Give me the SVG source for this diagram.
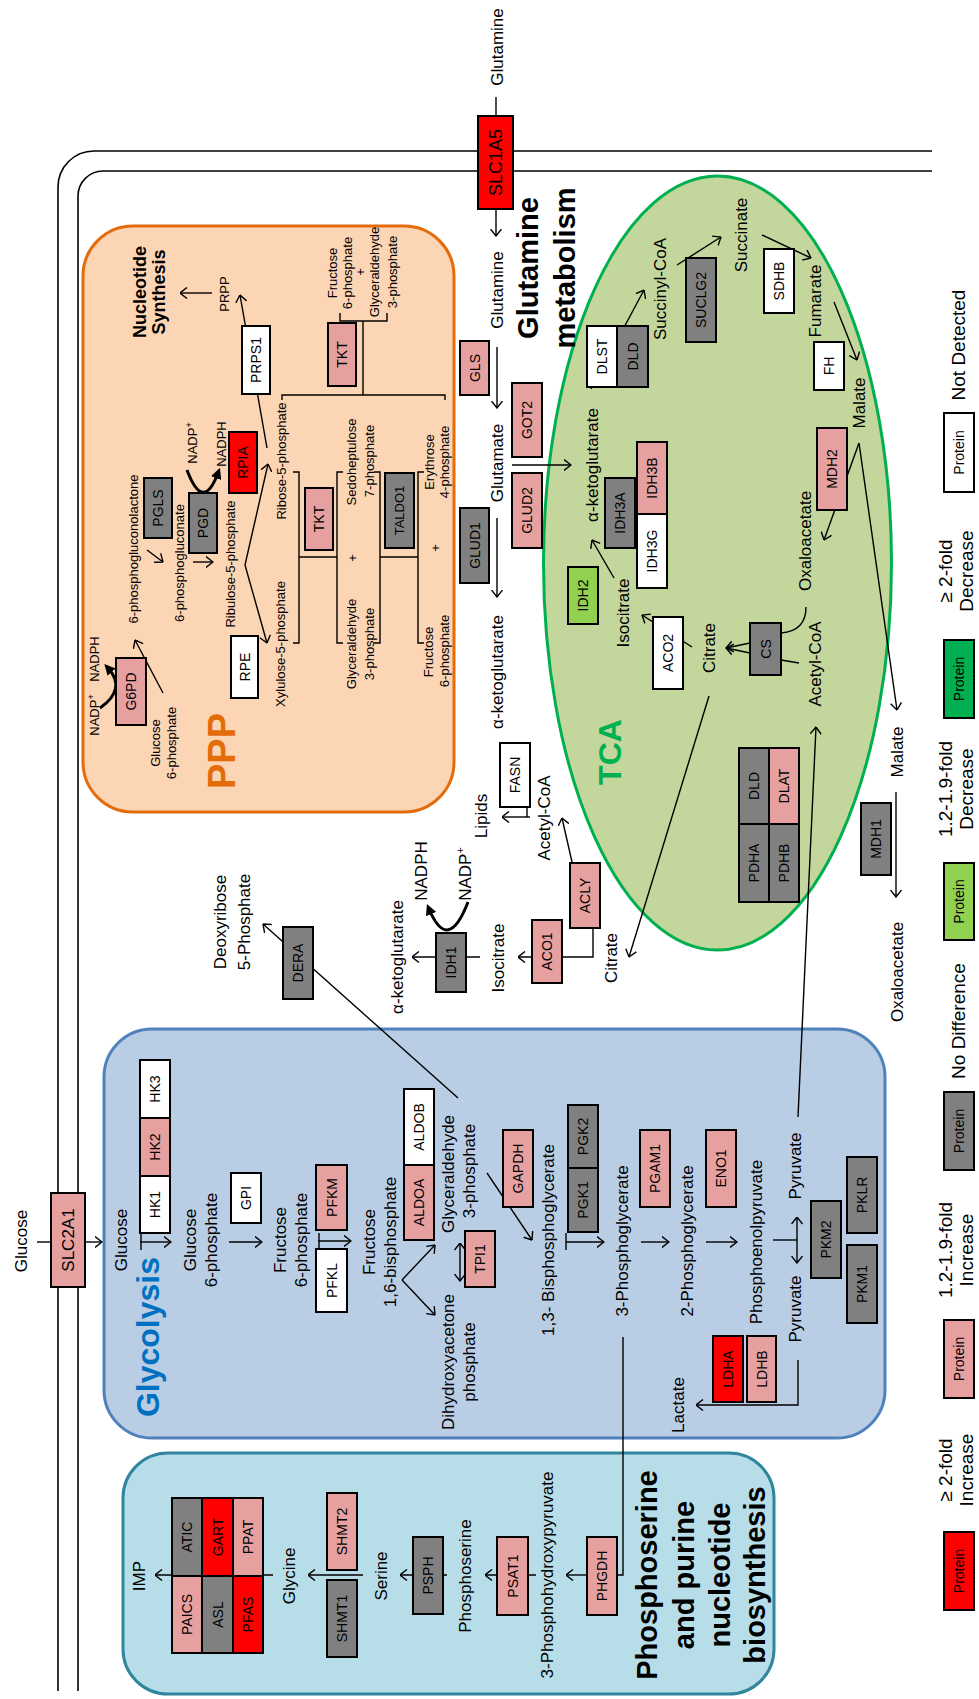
<svg xmlns="http://www.w3.org/2000/svg" width="979" height="1699" viewBox="0 0 979 1699">
<defs>
<style>
text{font-family:"Liberation Sans",Arial,sans-serif;text-anchor:middle;fill:#000}
.n rect{stroke:#000;stroke-width:2}
.k{font-size:14px}
.m{font-size:17px}
.s{font-size:13px}
.lg{font-size:19px}
.b{font-weight:bold}
#connectors path{fill:none;stroke:#000;stroke-width:1.4}
#connectors path.a{marker-end:url(#ah)}
#connectors path.hv{stroke-width:3;marker-end:url(#fh)}
.R{fill:#ff0000}.P{fill:#e6a0a0}.G{fill:#808080}.W{fill:#ffffff}.L{fill:#92d050}.D{fill:#00b050}
</style>
<marker id="ah" viewBox="0 0 8 12" refX="7.5" refY="6" markerWidth="8" markerHeight="12" markerUnits="userSpaceOnUse" orient="auto-start-reverse"><path d="M0.5,0.5 L7.5,6 L0.5,11.5" fill="none" stroke="#000" stroke-width="1.4"/></marker>
<marker id="fh" viewBox="0 0 10 10" refX="5" refY="5" markerWidth="11" markerHeight="11" markerUnits="userSpaceOnUse" orient="auto"><path d="M0,0 L10,5 L0,10 z" fill="#000"/></marker>
</defs>
<rect x="0" y="0" width="979" height="1699" fill="#fff"/>
<g transform="translate(0,1699) rotate(-90)">

<g id="membrane" fill="none" stroke="#000" stroke-width="1.6">
<path d="M8,58 H1512 A36,36 0 0 1 1548,94 V932"/>
<path d="M8,78 H1503 A25,25 0 0 1 1528,103 V932"/>
</g>

<g id="region-ppp"><rect x="887" y="83" width="586" height="371" rx="50" fill="#fcd5b5" stroke="#e46c0a" stroke-width="3"/>
<text x="948" y="235" class="b" style="font-size:38px;fill:#e46c0a">PPP</text></g>
<g id="region-glycolysis"><rect x="261" y="104" width="409" height="781" rx="48" fill="#b9cde5" stroke="#4f81bd" stroke-width="3"/>
<text x="362" y="159" class="b" style="font-size:32px;fill:#0070c0">Glycolysis</text></g>
<g id="region-phospho"><rect x="5" y="123" width="241" height="651" rx="45" fill="#b7dee8" stroke="#31859c" stroke-width="3"/>
<text x="124" y="657" class="b" style="font-size:29px">Phosphoserine</text>
<text x="124" y="694" class="b" style="font-size:29px">and purine</text>
<text x="124" y="730" class="b" style="font-size:29px">nucleotide</text>
<text x="124" y="765" class="b" style="font-size:29px">biosynthesis</text></g>
<g id="region-tca"><ellipse cx="1136" cy="717.5" rx="387" ry="174" fill="#c3d69b" stroke="#00b050" stroke-width="3"/>
<text x="947" y="621" class="b" style="font-size:32px;fill:#00b050">TCA</text></g>
<g id="label-glutamine-metabolism">
<text x="1431" y="538" class="b" style="font-size:29px">Glutamine</text>
<text x="1431" y="575" class="b" style="font-size:29px">metabolism</text></g>
<g id="label-nucleotide-synthesis">
<text x="1407" y="146" class="b" style="font-size:18px">Nucleotide</text>
<text x="1407" y="165" class="b" style="font-size:18px">Synthesis</text></g>

<g id="connectors">
<path d="M457,37 V51"/>
<path class="a" d="M457,85 V102"/>
<path class="a" d="M457,140 V171"/>
<path d="M449,141 H466"/>
<path class="a" d="M457,229 V262"/>
<path class="a" d="M458,318 V351"/>
<path d="M450,319 H466"/>
<path class="a" d="M419,402 L454,435"/>
<path class="a" d="M419,402 L384,435"/>
<path class="a" marker-start="url(#ah)" d="M418,460 H456"/>
<path class="a" d="M526,487 L459,532"/>
<path class="a" d="M457,566 V604"/>
<path d="M449,566 H466"/>
<path class="a" d="M457,641 V669"/>
<path class="a" d="M457,706 V737"/>
<path d="M459,773 V797"/>
<path class="a" marker-start="url(#ah)" d="M436,797 H482"/>
<path class="a" d="M582,798 L972,816"/>
<path class="a" d="M339,798 H294 V696"/>
<path d="M362,623 H124 V617"/>
<path class="a" d="M124,587 V566"/>
<path class="a" d="M124,536 V485"/>
<path class="a" d="M124,447 V400"/>
<path class="a" d="M124,363 V308"/>
<path class="a" d="M124,273 V155"/>
<path class="a" d="M601,458 L775,263"/>
<path class="a" d="M1003,709 L742,629"/>
<path class="a" d="M771,593 H742 V518"/>
<path class="a" d="M837,572 L881,562"/>
<path class="a" d="M742,480 V412"/>
<path class="hv" d="M797,468 Q745,448 790,429"/>
<path class="a" d="M882,530 V502"/>
<path d="M882,527 H892"/>
<path class="a" d="M1256,859 L989,897"/>
<path class="a" d="M907,896 H802"/>
<path d="M1602,496 H1583"/>
<path class="a" d="M1489,496 H1463"/>
<path class="a" d="M1352,497 H1291"/>
<path class="a" d="M1181,497 H1102"/>
<path class="a" d="M1234,512 V571"/>
<path class="a" d="M1121,614 L1159,592"/>
<path class="a" d="M1052,692 L1084,642"/>
<path class="a" d="M1056,750 L1051,726"/>
<path class="a" d="M1046,750 L1051,726"/>
<path d="M1092,806 Q1068,806 1066,781"/>
<path d="M1036,799 L1039,781"/>
<path class="a" d="M1256,859 L1159,824"/>
<path class="a" d="M1310,591 L1409,644"/>
<path class="a" d="M1434,677 L1462,721"/>
<path class="a" d="M1464,762 L1441,811"/>
<path class="a" d="M1397,834 L1339,857"/>
<path class="a" d="M1006,163 L1059,135"/>
<path class="hv" d="M991,100 Q1010,127 1031,108"/>
<path class="a" d="M1149,147 L1137,163"/>
<path class="a" d="M1137,193 V213"/>
<path class="hv" d="M1229,187 Q1186,203 1226,218"/>
<path class="a" d="M1134,245 L1235,268"/>
<path class="a" d="M1134,245 L1056,267"/>
<path class="a" d="M1251,267 L1404,240"/>
<path class="a" d="M1406,212 V180"/>
<path d="M1056,293 V299 H1227 V293"/>
<path d="M1142,299 V337"/>
<path d="M1056,343 V337 H1227 V343"/>
<path d="M1056,374 V380 H1227 V374"/>
<path d="M1142,380 V418"/>
<path d="M1056,424 V418 H1227 V424"/>
<path d="M1299,282 H1304 V445 H1299"/>
<path d="M1304,363 H1378"/>
<path d="M1386,340 H1378 V387 H1386"/>
</g>

<g id="SLC2A1" class="n"><rect class="P" x="412" y="51" width="94" height="34"/><text x="459" y="74" style="font-size:17px">SLC2A1</text></g>
<g id="SLC1A5" class="n"><rect class="R" x="1490" y="478" width="93" height="35"/><text x="1536.5" y="502" style="font-size:18px">SLC1A5</text></g>
<g id="HK1" class="n"><rect class="W" x="466" y="140" width="57" height="30"/><text class="k" x="494.5" y="160">HK1</text></g>
<g id="HK2" class="n"><rect class="P" x="523" y="140" width="58" height="30"/><text class="k" x="552" y="160">HK2</text></g>
<g id="HK3" class="n"><rect class="W" x="581" y="140" width="58" height="30"/><text class="k" x="610" y="160">HK3</text></g>
<g id="GPI" class="n"><rect class="W" x="476" y="231" width="50" height="30"/><text class="k" x="501" y="251">GPI</text></g>
<g id="PFKM" class="n"><rect class="P" x="469" y="316" width="65" height="31"/><text class="k" x="501.5" y="336.5">PFKM</text></g>
<g id="PFKL" class="n"><rect class="W" x="387" y="316" width="63" height="31"/><text class="k" x="418.5" y="336.5">PFKL</text></g>
<g id="ALDOA" class="n"><rect class="P" x="459" y="404" width="75" height="30"/><text class="k" x="496.5" y="424">ALDOA</text></g>
<g id="ALDOB" class="n"><rect class="W" x="534" y="404" width="76" height="30"/><text class="k" x="572" y="424">ALDOB</text></g>
<g id="TPI1" class="n"><rect class="P" x="412" y="465" width="56" height="30"/><text class="k" x="440" y="485">TPI1</text></g>
<g id="GAPDH" class="n"><rect class="P" x="492" y="503" width="77" height="30"/><text class="k" x="530.5" y="523">GAPDH</text></g>
<g id="PGK1" class="n"><rect class="G" x="467" y="568" width="64" height="30"/><text class="k" x="499" y="588">PGK1</text></g>
<g id="PGK2" class="n"><rect class="G" x="531" y="568" width="63" height="30"/><text class="k" x="562.5" y="588">PGK2</text></g>
<g id="PGAM1" class="n"><rect class="P" x="492" y="640" width="77" height="30"/><text class="k" x="530.5" y="660">PGAM1</text></g>
<g id="ENO1" class="n"><rect class="P" x="492" y="706" width="77" height="30"/><text class="k" x="530.5" y="726">ENO1</text></g>
<g id="PKM2" class="n"><rect class="G" x="421" y="811" width="77" height="30"/><text class="k" x="459.5" y="831">PKM2</text></g>
<g id="PKLR" class="n"><rect class="G" x="466" y="847" width="76" height="30"/><text class="k" x="504" y="867">PKLR</text></g>
<g id="PKM1" class="n"><rect class="G" x="376" y="847" width="78" height="30"/><text class="k" x="415" y="867">PKM1</text></g>
<g id="LDHA" class="n"><rect class="R" x="297" y="713" width="66" height="30"/><text class="k" x="330" y="733">LDHA</text></g>
<g id="LDHB" class="n"><rect class="P" x="297" y="747" width="66" height="29"/><text class="k" x="330" y="766.5">LDHB</text></g>
<g id="PHGDH" class="n"><rect class="P" x="84" y="587" width="78" height="30"/><text class="k" x="123" y="607">PHGDH</text></g>
<g id="PSAT1" class="n"><rect class="P" x="84" y="497" width="78" height="31"/><text class="k" x="123" y="517.5">PSAT1</text></g>
<g id="PSPH" class="n"><rect class="G" x="85" y="413" width="77" height="30"/><text class="k" x="123.5" y="433">PSPH</text></g>
<g id="SHMT2" class="n"><rect class="P" x="129" y="327" width="77" height="30"/><text class="k" x="167.5" y="347">SHMT2</text></g>
<g id="SHMT1" class="n"><rect class="G" x="42" y="327" width="77" height="30"/><text class="k" x="80.5" y="347">SHMT1</text></g>
<g id="PAICS" class="n"><rect class="P" x="46" y="172" width="77" height="30"/><text class="k" x="84.5" y="192">PAICS</text></g>
<g id="ASL" class="n"><rect class="G" x="46" y="202" width="77" height="31"/><text class="k" x="84.5" y="222.5">ASL</text></g>
<g id="PFAS" class="n"><rect class="R" x="46" y="233" width="77" height="30"/><text class="k" x="84.5" y="253">PFAS</text></g>
<g id="ATIC" class="n"><rect class="G" x="123" y="172" width="78" height="30"/><text class="k" x="162" y="192">ATIC</text></g>
<g id="GART" class="n"><rect class="R" x="123" y="202" width="78" height="31"/><text class="k" x="162" y="222.5">GART</text></g>
<g id="PPAT" class="n"><rect class="P" x="123" y="233" width="78" height="30"/><text class="k" x="162" y="253">PPAT</text></g>
<g id="DERA" class="n"><rect class="G" x="700" y="283" width="72" height="30"/><text class="k" x="736" y="303">DERA</text></g>
<g id="IDH1" class="n"><rect class="G" x="707" y="436" width="59" height="30"/><text class="k" x="736.5" y="456">IDH1</text></g>
<g id="ACO1" class="n"><rect class="P" x="716" y="532" width="63" height="30"/><text class="k" x="747.5" y="552">ACO1</text></g>
<g id="ACLY" class="n"><rect class="P" x="771" y="570" width="65" height="30"/><text class="k" x="803.5" y="590">ACLY</text></g>
<g id="FASN" class="n"><rect class="W" x="892" y="500" width="64" height="30"/><text class="k" x="924" y="520">FASN</text></g>
<g id="MDH1" class="n"><rect class="G" x="824" y="861" width="72" height="30"/><text class="k" x="860" y="881">MDH1</text></g>
<g id="PDHA" class="n"><rect class="G" x="797" y="739" width="78" height="30"/><text class="k" x="836" y="759">PDHA</text></g>
<g id="PDHB" class="n"><rect class="G" x="797" y="769" width="78" height="30"/><text class="k" x="836" y="789">PDHB</text></g>
<g id="DLD-pdh" class="n"><rect class="G" x="875" y="739" width="76" height="30"/><text class="k" x="913" y="759">DLD</text></g>
<g id="DLAT" class="n"><rect class="P" x="875" y="769" width="76" height="30"/><text class="k" x="913" y="789">DLAT</text></g>
<g id="CS" class="n"><rect class="G" x="1024" y="750" width="52" height="31"/><text class="k" x="1050" y="770.5">CS</text></g>
<g id="ACO2" class="n"><rect class="W" x="1010" y="653" width="72" height="30"/><text class="k" x="1046" y="673">ACO2</text></g>
<g id="IDH2" class="n"><rect class="L" x="1075" y="568" width="57" height="30"/><text class="k" x="1103.5" y="588">IDH2</text></g>
<g id="IDH3A" class="n"><rect class="G" x="1151" y="605" width="70" height="30"/><text class="k" x="1186" y="625">IDH3A</text></g>
<g id="IDH3G" class="n"><rect class="W" x="1111" y="637" width="74" height="30"/><text class="k" x="1148" y="657">IDH3G</text></g>
<g id="IDH3B" class="n"><rect class="P" x="1185" y="637" width="72" height="30"/><text class="k" x="1221" y="657">IDH3B</text></g>
<g id="MDH2" class="n"><rect class="P" x="1189" y="817" width="82" height="30"/><text class="k" x="1230" y="837">MDH2</text></g>
<g id="FH" class="n"><rect class="W" x="1309" y="814" width="48" height="30"/><text class="k" x="1333" y="834">FH</text></g>
<g id="SDHB" class="n"><rect class="W" x="1386" y="764" width="64" height="30"/><text class="k" x="1418" y="784">SDHB</text></g>
<g id="SUCLG2" class="n"><rect class="G" x="1357" y="686" width="84" height="30"/><text class="k" x="1399" y="706">SUCLG2</text></g>
<g id="DLST" class="n"><rect class="W" x="1312" y="587" width="61" height="30"/><text class="k" x="1342.5" y="607">DLST</text></g>
<g id="DLD-kgdh" class="n"><rect class="G" x="1312" y="617" width="61" height="31"/><text class="k" x="1342.5" y="637.5">DLD</text></g>
<g id="GLS" class="n"><rect class="P" x="1304" y="460" width="54" height="29"/><text class="k" x="1331" y="479.5">GLS</text></g>
<g id="GLUD1" class="n"><rect class="G" x="1116" y="460" width="75" height="29"/><text class="k" x="1153.5" y="479.5">GLUD1</text></g>
<g id="GOT2" class="n"><rect class="P" x="1242" y="512" width="74" height="30"/><text class="k" x="1279" y="532">GOT2</text></g>
<g id="GLUD2" class="n"><rect class="P" x="1151" y="512" width="75" height="30"/><text class="k" x="1188.5" y="532">GLUD2</text></g>
<g id="G6PD" class="n"><rect class="P" x="974" y="116" width="67" height="30"/><text class="k" x="1007.5" y="136">G6PD</text></g>
<g id="PGLS" class="n"><rect class="G" x="1161" y="144" width="60" height="28"/><text class="k" x="1191" y="163">PGLS</text></g>
<g id="PGD" class="n"><rect class="G" x="1146" y="189" width="60" height="28"/><text class="k" x="1176" y="208">PGD</text></g>
<g id="RPIA" class="n"><rect class="R" x="1206" y="229" width="61" height="28"/><text class="k" x="1236.5" y="248">RPIA</text></g>
<g id="RPE" class="n"><rect class="W" x="1001" y="231" width="62" height="27"/><text class="k" x="1032" y="249.5">RPE</text></g>
<g id="TKT-1" class="n"><rect class="P" x="1149" y="305" width="62" height="28"/><text class="k" x="1180" y="324">TKT</text></g>
<g id="TALDO1" class="n"><rect class="G" x="1151" y="385" width="75" height="29"/><text x="1188.5" y="404" style="font-size:13px">TALDO1</text></g>
<g id="TKT-2" class="n"><rect class="P" x="1313" y="328" width="63" height="28"/><text class="k" x="1344.5" y="347">TKT</text></g>
<g id="PRPS1" class="n"><rect class="W" x="1305" y="242" width="68" height="28"/><text class="k" x="1339" y="261">PRPS1</text></g>

<g id="m-glucose-out"><text class="m" x="458" y="27">Glucose</text></g>
<g id="m-glucose"><text class="m" x="459" y="127">Glucose</text></g>
<g id="m-g6p"><text class="m" x="459" y="196">Glucose</text><text class="m" x="459" y="217">6-phosphate</text></g>
<g id="m-f6p"><text class="m" x="459" y="286">Fructose</text><text class="m" x="459" y="307">6-phosphate</text></g>
<g id="m-f16bp"><text class="m" x="457" y="375">Fructose</text><text class="m" x="457" y="396">1,6-bisphosphate</text></g>
<g id="m-ga3p"><text class="m" x="525" y="454">Glyceraldehyde</text><text class="m" x="528" y="475">3-phosphate</text></g>
<g id="m-dhap"><text class="m" x="337" y="454">Dihydroxyacetone</text><text class="m" x="337" y="475">phosphate</text></g>
<g id="m-13bpg"><text class="m" x="459" y="554">1,3- Bisphosphoglycerate</text></g>
<g id="m-3pg"><text class="m" x="458" y="628">3-Phosphoglycerate</text></g>
<g id="m-2pg"><text class="m" x="458" y="693">2-Phosphoglycerate</text></g>
<g id="m-pep"><text class="m" x="457" y="762">Phosphoenolpyruvate</text></g>
<g id="m-pyr1"><text class="m" x="533" y="801">Pyruvate</text></g>
<g id="m-pyr2"><text class="m" x="390" y="801">Pyruvate</text></g>
<g id="m-lactate"><text class="m" x="294" y="684">Lactate</text></g>
<g id="m-3php"><text class="m" x="124" y="553">3-Phosphohydroxypyruvate</text></g>
<g id="m-pser"><text class="m" x="123" y="471">Phosphoserine</text></g>
<g id="m-serine"><text class="m" x="123" y="387">Serine</text></g>
<g id="m-glycine"><text class="m" x="123" y="295">Glycine</text></g>
<g id="m-imp"><text class="m" x="123" y="145">IMP</text></g>
<g id="m-dr5p"><text class="m" x="777" y="226">Deoxyribose</text><text class="m" x="777" y="250">5-Phosphate</text></g>
<g id="m-akg-idh1"><text class="m" x="742" y="403">α-ketoglutarate</text></g>
<g id="m-nadph-idh1"><text class="m" x="828" y="427">NADPH</text></g>
<g id="m-nadp-idh1"><text class="m" x="825" y="471">NADP<tspan font-size="11" dy="-7">+</tspan></text></g>
<g id="m-iso-out"><text class="m" x="741" y="504">Isocitrate</text></g>
<g id="m-cit-out"><text class="m" x="741" y="617">Citrate</text></g>
<g id="m-accoa-out"><text class="m" x="881" y="550">Acetyl-CoA</text></g>
<g id="m-lipids"><text class="m" x="883" y="487">Lipids</text></g>
<g id="m-oaa-out"><text class="m" x="727" y="903">Oxaloacetate</text></g>
<g id="m-mal-out"><text class="m" x="947" y="903">Malate</text></g>
<g id="m-gln-out"><text class="m" x="1652" y="503">Glutamine</text></g>
<g id="m-gln"><text class="m" x="1409" y="503">Glutamine</text></g>
<g id="m-glu"><text class="m" x="1236" y="503">Glutamate</text></g>
<g id="m-akg-glu"><text class="m" x="1027" y="503">α-ketoglutarate</text></g>
<g id="m-akg"><text class="m" x="1234" y="598">α-ketoglutarate</text></g>
<g id="m-iso"><text class="m" x="1086" y="629">Isocitrate</text></g>
<g id="m-cit"><text class="m" x="1051" y="715">Citrate</text></g>
<g id="m-oaa"><text class="m" x="1158" y="811">Oxaloacetate</text></g>
<g id="m-accoa"><text class="m" x="1035" y="821">Acetyl-CoA</text></g>
<g id="m-mal"><text class="m" x="1296" y="865">Malate</text></g>
<g id="m-succoa"><text class="m" x="1410" y="666">Succinyl-CoA</text></g>
<g id="m-succ"><text class="m" x="1464" y="747">Succinate</text></g>
<g id="m-fum"><text class="m" x="1398" y="821">Fumarate</text></g>

<g id="m-nadp-g6pd"><text class="s" x="984" y="99">NADP<tspan font-size="9" dy="-5">+</tspan></text></g>
<g id="m-nadph-g6pd"><text class="s" x="1040" y="99">NADPH</text></g>
<g id="m-g6p-ppp"><text class="s" x="956" y="160">Glucose</text><text class="s" x="956" y="176">6-phosphate</text></g>
<g id="m-6pgl"><text class="s" x="1150" y="138">6-phosphogluconolactone</text></g>
<g id="m-6pg"><text class="s" x="1136" y="184">6-phosphogluconate</text></g>
<g id="m-nadp-pgd"><text class="s" x="1256" y="197">NADP<tspan font-size="9" dy="-5">+</tspan></text></g>
<g id="m-nadph-pgd"><text class="s" x="1255" y="226">NADPH</text></g>
<g id="m-ru5p"><text class="s" x="1135" y="235">Ribulose-5-phosphate</text></g>
<g id="m-xu5p"><text class="s" x="1055" y="285">Xylulose-5-phosphate</text></g>
<g id="m-r5p"><text class="s" x="1238" y="286">Ribose-5-phosphate</text></g>
<g id="m-prpp"><text class="s" x="1405" y="229">PRPP</text></g>
<g id="m-s7p"><text class="s" x="1237" y="356">Sedoheptulose</text><text class="s" x="1238" y="374">7-phosphate</text></g>
<g id="m-ga3p-ppp1"><text class="s" x="1055" y="356">Glyceraldehyde</text><text class="s" x="1055" y="374">3-phosphate</text></g>
<g id="m-plus1"><text class="s" x="1141" y="357">+</text></g>
<g id="m-f6p-ppp1"><text class="s" x="1047" y="433">Fructose</text><text class="s" x="1048" y="449">6-phosphate</text></g>
<g id="m-e4p"><text class="s" x="1237" y="434">Erythrose</text><text class="s" x="1237" y="449">4-phosphate</text></g>
<g id="m-plus2"><text class="s" x="1151" y="440">+</text></g>
<g id="m-f6p-ppp2"><text class="s" x="1426" y="337">Fructose</text><text class="s" x="1426" y="352">6-phosphate</text></g>
<g id="m-plus3"><text class="s" x="1427" y="365">+</text></g>
<g id="m-ga3p-ppp2"><text class="s" x="1427" y="379">Glyceraldehyde</text><text class="s" x="1427" y="397">3-phosphate</text></g>

<g id="legend">
<g id="legend-red" class="n"><rect class="R" x="89" y="944" width="78" height="30"/><text class="k" x="128" y="964">Protein</text></g>
<text class="lg" x="229" y="952">≥ 2-fold</text><text class="lg" x="229" y="973">Increase</text>
<g id="legend-pink" class="n"><rect class="P" x="301" y="944" width="78" height="30"/><text class="k" x="340" y="964">Protein</text></g>
<text class="lg" x="449" y="952">1.2-1.9-fold</text><text class="lg" x="449" y="973">Increase</text>
<g id="legend-grey" class="n"><rect class="G" x="529" y="944" width="78" height="30"/><text class="k" x="568" y="964">Protein</text></g>
<text class="lg" x="678" y="965">No Difference</text>
<g id="legend-lightgreen" class="n"><rect class="L" x="759" y="944" width="77" height="30"/><text class="k" x="797.5" y="964">Protein</text></g>
<text class="lg" x="910" y="952">1.2-1.9-fold</text><text class="lg" x="910" y="973">Decrease</text>
<g id="legend-darkgreen" class="n"><rect class="D" x="981" y="944" width="78" height="30"/><text class="k" x="1020" y="964">Protein</text></g>
<text class="lg" x="1128" y="952">≥ 2-fold</text><text class="lg" x="1128" y="973">Decrease</text>
<g id="legend-white" class="n"><rect class="W" x="1207" y="944" width="79" height="30"/><text class="k" x="1246.5" y="964">Protein</text></g>
<text class="lg" x="1354" y="965">Not Detected</text>
</g>
</g>
</svg>
